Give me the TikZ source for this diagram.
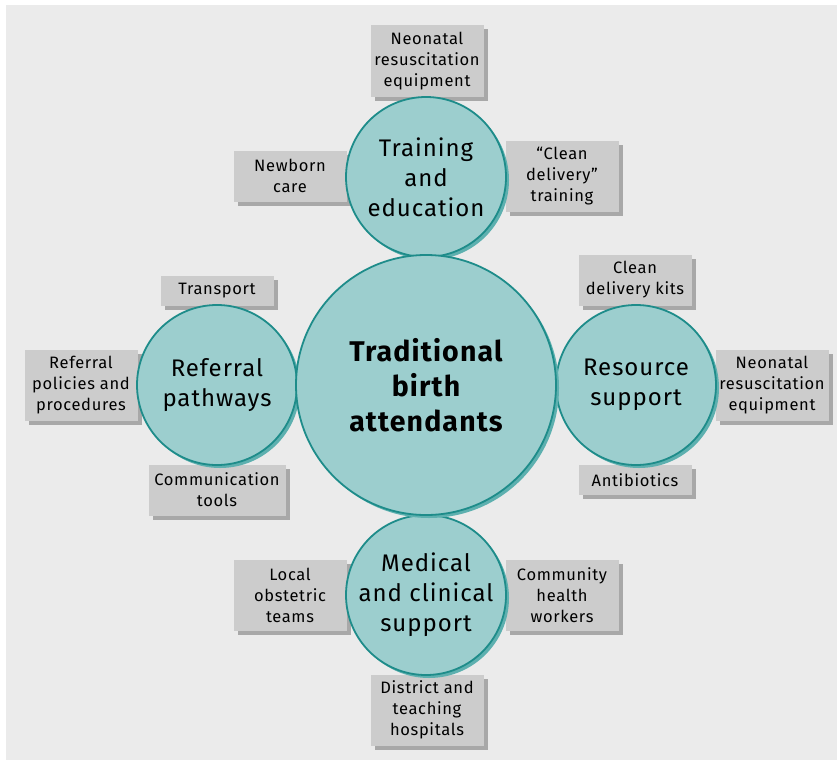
\documentclass[tikz,border=0pt]{standalone}
\usepackage{fontspec}
\setmainfont{Fira Sans}[LetterSpace=4]
\usetikzlibrary{shadows}
\usetikzlibrary{positioning}

\definecolor{panelgrey}{HTML}{EBEBEB}
\definecolor{boxgrey}{HTML}{CCCCCC}
\definecolor{boxshade}{HTML}{A8A8A8}
\definecolor{tealfill}{HTML}{9CCECE}
\definecolor{tealline}{HTML}{1E8C8A}
\definecolor{tealshade}{HTML}{5DB0AF}

\begin{document}
\begin{tikzpicture}[x=1pt,y=-1pt,
    hub/.style={circle, draw=tealline, line width=1.8pt, fill=tealfill,
        minimum size=260pt, inner sep=0pt, align=center,
        drop shadow={shadow xshift=3pt, shadow yshift=-3pt, fill=tealshade, opacity=1},
        font=\fontsize{28.5}{35}\selectfont\bfseries},
    pillar/.style={circle, draw=tealline, line width=1.8pt, fill=tealfill,
        minimum size=160pt, inner sep=0pt, align=center,
        drop shadow={shadow xshift=3pt, shadow yshift=-3pt, fill=tealshade, opacity=1},
        font=\fontsize{24}{30}\selectfont},
    item/.style={rectangle, fill=boxgrey, minimum width=113pt, inner sep=0pt,
        align=center, font=\fontsize{16.5}{21}\selectfont,
        drop shadow={shadow xshift=4pt, shadow yshift=-4pt, fill=boxshade, opacity=1}}]
    \useasboundingbox (0,0) rectangle (837,760);
    \fill[panelgrey] (6,5) rectangle (837,760);

    % boxes around the training circle
    \node[item, minimum height=72pt] (trainneo) at (427,61) {Neonatal\\resuscitation\\equipment};
    \node[item, minimum height=51pt] (newborn) at (290,176) {Newborn\\care};
    \node[item, minimum height=71pt] (cleantrain) at (562,176) {``Clean\\delivery''\\training};
    % boxes around the resource circle
    \node[item, minimum height=51pt] (kits) at (635,280) {Clean\\delivery kits};
    \node[item, minimum height=71pt] (resneo) at (772,385) {Neonatal\\resuscitation\\equipment};
    \node[item, minimum height=30pt] (antibio) at (635,480) {Antibiotics};
    % boxes around the referral circle
    \node[item, minimum height=30pt] (transport) at (217,291) {Transport};
    \node[item, minimum height=71pt] (policies) at (81,385) {Referral\\policies and\\procedures};
    \node[item, minimum height=51pt, minimum width=137pt] (commtools) at (217,490) {Communication\\tools};
    % boxes around the medical circle
    \node[item, minimum height=71pt] (obstetric) at (290,595) {Local\\obstetric\\teams};
    \node[item, minimum height=71pt] (chw) at (562,595) {Community\\health\\workers};
    \node[item, minimum height=71pt] (hospitals) at (427,710) {District and\\teaching\\hospitals};

    % circles
    \node[pillar] (training) at (426,177) {Training\\and\\education};
    \node[pillar] (resource) at (636,385) {Resource\\support};
    \node[pillar] (referral) at (217,385) {Referral\\pathways};
    \node[pillar] (medical) at (426,595) {Medical\\and clinical\\support};
    \node[hub] (tba) at (426,385) {Traditional\\birth\\attendants};
\end{tikzpicture}
\end{document}
